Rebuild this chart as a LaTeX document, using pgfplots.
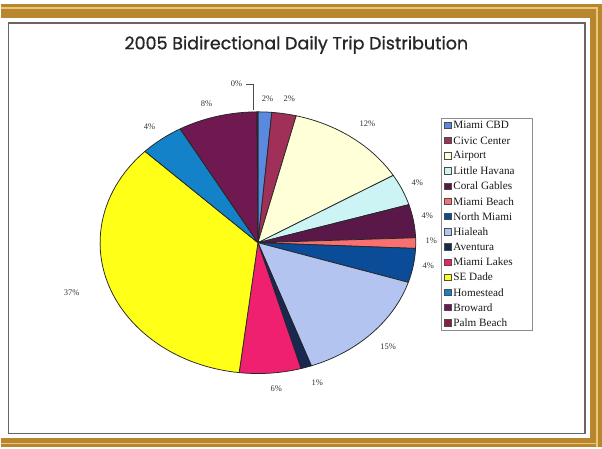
\documentclass[border=0pt]{standalone}
\usepackage{fontspec}
\setmainfont{Liberation Serif}
\newfontfamily\titlefont[FakeBold=0.8]{Poppins}
\usepackage{pgfplots}
\usepackage{pgfplotstable}
\pgfplotsset{compat=1.18}

% slice colours, in the order of the slices
\definecolor{c0}{HTML}{5A8AE0}
\definecolor{c1}{HTML}{A03058}
\definecolor{c2}{HTML}{FFFFD8}
\definecolor{c3}{HTML}{CCF4F4}
\definecolor{c4}{HTML}{5A1848}
\definecolor{c5}{HTML}{F87070}
\definecolor{c6}{HTML}{0A4C98}
\definecolor{c7}{HTML}{B4C4F0}
\definecolor{c8}{HTML}{182850}
\definecolor{c9}{HTML}{F02070}
\definecolor{c10}{HTML}{FFFF18}
\definecolor{c11}{HTML}{1482C8}
\definecolor{c12}{HTML}{701850}
\definecolor{c13}{HTML}{8A2040}
\definecolor{gold}{HTML}{B8862E}
\definecolor{goldlight}{HTML}{E8C878}

% share of each slice (percent), label text and label position (pixels)
\pgfplotstableread[col sep=comma]{
name,value,lab,lx,ly
Miami CBD,1.4,2,267,99
Civic Center,2.5,2,289,99
Airport,12.5,12,367,124
Little Havana,3.9,4,417,183
Coral Gables,4.1,4,427,216
Miami Beach,1.3,1,431,241
North Miami,4.2,4,428,266
Hialeah,14.6,15,388,347
Aventura,1.1,1,317,383
Miami Lakes,6.3,6,276,389
SE Dade,35.4,37,71,293
Homestead,4.5,4,149,127
Broward,8.1,8,206,104
Palm Beach,0.1,0,236,84
}\slices

\begin{document}
\begin{tikzpicture}
\begin{axis}[
    scale only axis,
    width=602pt, height=448pt,
    xmin=0, xmax=602, ymin=0, ymax=448,
    y dir=reverse,
    hide axis,
    clip=false,
]
\pgfplotsextra{
    % page and frame
    \fill[white] (axis cs:0,0) rectangle (axis cs:602,448);
    \fill[gold] (axis cs:0,4) rectangle (axis cs:602,18);
    \fill[gold] (axis cs:590,4) rectangle (axis cs:602,448);
    \fill[gold] (axis cs:0,439) rectangle (axis cs:602,448);
    \draw[goldlight, line width=1.5pt] (axis cs:0,8) -- (axis cs:597,8) -- (axis cs:597,448);
    \draw[goldlight, line width=1pt] (axis cs:0,444) -- (axis cs:597,444);
    \draw[black!60, line width=1.2pt] (axis cs:8,23) rectangle (axis cs:585,434);

    \node[font=\titlefont\fontsize{17.5}{20}\selectfont, text=black!85] at (axis cs:296,45)
        {2005 Bidirectional Daily Trip Distribution};

    % slices
    \xdef\cum{0}
    \foreach \i in {0,...,13}{
        \pgfplotstablegetelem{\i}{value}\of\slices
        \let\v\pgfplotsretval
        \pgfmathsetmacro\sa{90-3.6*\cum}
        \pgfmathsetmacro\ea{90-3.6*(\cum+\v)}
        \filldraw[fill=c\i, draw=black!85, line width=0.75pt, line join=round]
            (axis cs:257.5,243) -- ++(\sa:158pt and 131pt)
            arc[start angle=\sa, end angle=\ea, x radius=158pt, y radius=131pt] -- cycle;
        \pgfmathparse{\cum+\v}
        \xdef\cum{\pgfmathresult}
    }

    % data labels
    \foreach \i in {0,...,13}{
        \pgfplotstablegetelem{\i}{lab}\of\slices \let\lab\pgfplotsretval
        \pgfplotstablegetelem{\i}{lx}\of\slices \let\lx\pgfplotsretval
        \pgfplotstablegetelem{\i}{ly}\of\slices \let\ly\pgfplotsretval
        \node[font=\fontsize{8.5}{9}\selectfont, text=black!80, inner sep=0pt]
            at (axis cs:\lx,\ly) {\lab\%};
    }
    \draw[black!70, line width=0.5pt] (axis cs:246,84) -- (axis cs:252.5,84) -- (axis cs:252.5,110);

    % legend
    \draw[black!45, line width=0.6pt] (axis cs:441,118) rectangle (axis cs:532,331);
    \foreach \i in {0,...,13}{
        \pgfplotstablegetelem{\i}{name}\of\slices \let\nm\pgfplotsretval
        \pgfmathsetmacro\yy{125.5+15.2*\i}
        \filldraw[fill=c\i, draw=black!70, line width=0.5pt]
            (axis cs:444.5,\yy-3.2) rectangle (axis cs:451,\yy+3.2);
        \node[anchor=west, font=\fontsize{11.2}{12}\selectfont, text=black!90, inner sep=0pt]
            at (axis cs:453,\yy) {\nm};
    }
}
\end{axis}
\end{tikzpicture}
\end{document}
